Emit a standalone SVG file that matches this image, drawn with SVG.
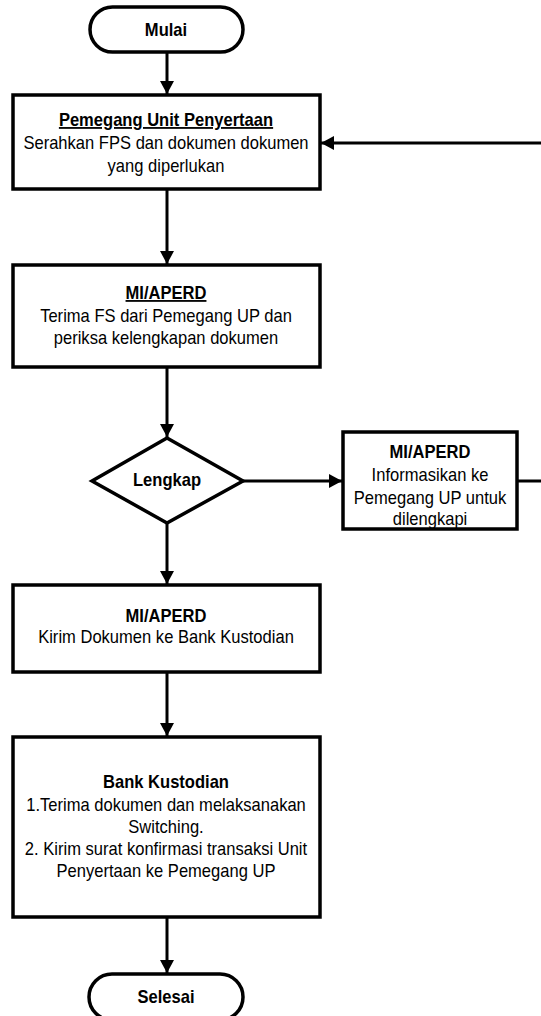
<svg xmlns="http://www.w3.org/2000/svg" width="541" height="1016" viewBox="0 0 541 1016">
<style>
.s{fill:#fff;stroke:#000;stroke-width:3.5}
.c{fill:none;stroke:#000;stroke-width:3}
text{font-family:"Liberation Sans",Arial,sans-serif;font-size:18px;fill:#000;text-anchor:middle}
.b{font-weight:bold}
.u{text-decoration:underline}
</style>
<defs>
<marker id="ah" markerUnits="userSpaceOnUse" markerWidth="14" markerHeight="14" refX="13" refY="7" orient="auto">
<path d="M0,0 L13,7 L0,14 Z" fill="#000"/>
</marker>
</defs>
<rect width="541" height="1016" fill="#fff"/>
<g id="connectors">
<line class="c" x1="167" y1="52" x2="167" y2="94" marker-end="url(#ah)"/>
<line class="c" x1="167" y1="189" x2="167" y2="264" marker-end="url(#ah)"/>
<line class="c" x1="167" y1="367" x2="167" y2="437" marker-end="url(#ah)"/>
<line class="c" x1="243" y1="481" x2="342" y2="481" marker-end="url(#ah)"/>
<line class="c" x1="167" y1="523" x2="167" y2="584" marker-end="url(#ah)"/>
<line class="c" x1="167" y1="672" x2="167" y2="736" marker-end="url(#ah)"/>
<line class="c" x1="167" y1="917" x2="167" y2="973" marker-end="url(#ah)"/>
<line class="c" x1="517" y1="481" x2="541" y2="481"/>
<line class="c" x1="541" y1="143" x2="321" y2="143" marker-end="url(#ah)"/>
</g>
<g id="mulai">
<rect class="s" x="90" y="7" width="153" height="45" rx="22.5"/>
<g transform="translate(166 0) scale(0.92 1)"><text class="b" x="0" y="36">Mulai</text></g>
</g>
<g id="pemegang">
<rect class="s" x="13" y="95" width="307" height="94"/>
<g transform="translate(166 0) scale(0.92 1)">
<text class="b u" x="0" y="126">Pemegang Unit Penyertaan</text>
<text x="0" y="149">Serahkan FPS dan dokumen dokumen</text>
<text x="0" y="172">yang diperlukan</text>
</g>
</g>
<g id="terima">
<rect class="s" x="13" y="265" width="307" height="102"/>
<g transform="translate(166 0) scale(0.92 1)">
<text class="b u" x="0" y="299">MI/APERD</text>
<text x="0" y="322">Terima FS dari Pemegang UP dan</text>
<text x="0" y="344">periksa kelengkapan dokumen</text>
</g>
</g>
<g id="lengkap">
<polygon class="s" points="167,438 243,481 167,523 92,481"/>
<g transform="translate(167 0) scale(0.92 1)"><text class="b" x="0" y="486">Lengkap</text></g>
</g>
<g id="informasikan">
<rect class="s" x="343" y="432" width="174" height="97"/>
<g transform="translate(430 0) scale(0.92 1)">
<text class="b" x="0" y="458">MI/APERD</text>
<text x="0" y="481">Informasikan ke</text>
<text x="0" y="504">Pemegang UP untuk</text>
<text x="0" y="525">dilengkapi</text>
</g>
</g>
<g id="kirim">
<rect class="s" x="13" y="585" width="307" height="87"/>
<g transform="translate(166 0) scale(0.92 1)">
<text class="b" x="0" y="622">MI/APERD</text>
<text x="0" y="643">Kirim Dokumen ke Bank Kustodian</text>
</g>
</g>
<g id="bank">
<rect class="s" x="13" y="737" width="307" height="180"/>
<g transform="translate(166 0) scale(0.92 1)">
<text class="b" x="0" y="788">Bank Kustodian</text>
<text x="0" y="811">1.Terima dokumen dan melaksanakan</text>
<text x="0" y="833">Switching.</text>
<text x="0" y="855">2. Kirim surat konfirmasi transaksi Unit</text>
<text x="0" y="877">Penyertaan ke Pemegang UP</text>
</g>
</g>
<g id="selesai">
<rect class="s" x="89" y="974" width="154" height="46" rx="23"/>
<g transform="translate(166 0) scale(0.92 1)"><text class="b" x="0" y="1003">Selesai</text></g>
</g>
</svg>
